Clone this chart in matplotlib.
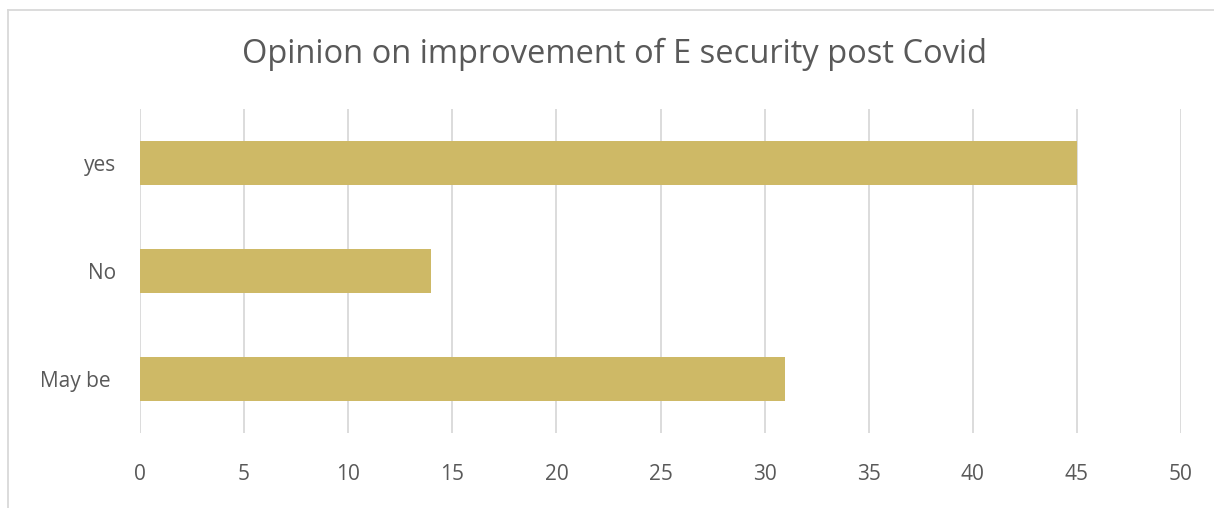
import matplotlib.pyplot as plt

categories = ["May be ", "No", "yes"]
values = [31, 14, 45]
x_ticks = [0, 5, 10, 15, 20, 25, 30, 35, 40, 45, 50]

bar_color = "#CEB966"
text_color = "#595959"
grid_color = "#D9D9D9"

plt.rcParams["font.family"] = ["Open Sans", "DejaVu Sans"]

fig = plt.figure(figsize=(12.14, 5.08), dpi=100)
ax = fig.add_axes([140 / 1214, 1 - 433 / 508, (1181 - 140) / 1214, (433 - 109) / 508])

ax.barh(range(len(categories)), values, height=0.4, color=bar_color, zorder=3)

ax.set_xlim(0, 50)
ax.set_ylim(-0.5, len(categories) - 0.5)
ax.set_xticks(x_ticks)
ax.set_xticklabels([str(t) for t in x_ticks])
ax.set_yticks(range(len(categories)))
ax.set_yticklabels(categories)
ax.tick_params(axis="x", length=0, pad=22.5, labelsize=15, labelcolor=text_color)
ax.tick_params(axis="y", length=0, pad=17, labelsize=15, labelcolor=text_color)
ax.grid(axis="x", color=grid_color, linewidth=1.3, zorder=0)
for s in ax.spines.values():
    s.set_visible(False)

fig.text(614 / 1214, 1 - 54 / 508, "Opinion on improvement of E security post Covid",
         ha="center", va="center", fontsize=23.5, color=text_color)

# outer chart frame (only top and left edges are visible in the crop)
fig.add_artist(plt.Line2D([8 / 1214, 1], [1 - 10 / 508, 1 - 10 / 508], color=grid_color, linewidth=1.3))
fig.add_artist(plt.Line2D([8 / 1214, 8 / 1214], [0, 1 - 10 / 508], color=grid_color, linewidth=1.3))

fig.savefig("out.png", dpi=100)
